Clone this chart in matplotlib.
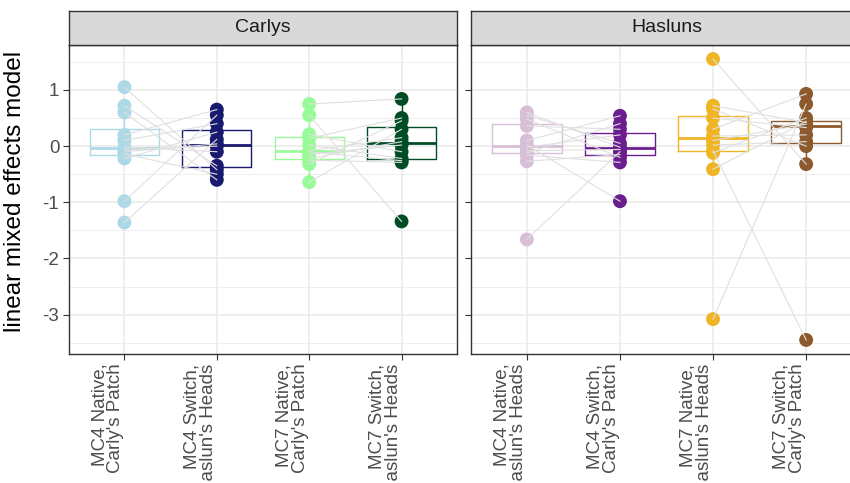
import matplotlib
matplotlib.use('Agg')
import matplotlib.pyplot as plt
import matplotlib.transforms as mtransforms

plt.rcParams['font.family'] = ['Liberation Sans', 'DejaVu Sans']
plt.rcParams['axes.unicode_minus'] = False

panels = ["Carlys", "Hasluns"]

carlys_labels = ["MC4 Native,\nCarly's Patch", "MC4 Switch,\nHaslun's Heads",
                 "MC7 Native,\nCarly's Patch", "MC7 Switch,\nHaslun's Heads"]
hasluns_labels = ["MC4 Native,\nHaslun's Heads", "MC4 Switch,\nCarly's Patch",
                  "MC7 Native,\nHaslun's Heads", "MC7 Switch,\nCarly's Patch"]

carlys_colors = ["#ADD8E6", "#191970", "#98FB98", "#004D25"]
hasluns_colors = ["#D8BFD8", "#6B1F8E", "#EFB524", "#8C5A2C"]

# values per individual; index i in native list pairs with index i in switch list
carlys_mc4_native = [1.05, 0.72, 0.6, 0.2, 0.1, -0.02, -0.06, -0.1, -0.14, -0.22, -0.98, -1.36]
carlys_mc4_switch = [-0.42, -0.35, -0.6, 0.65, 0.4, -0.1, 0.0, 0.04, -0.5, 0.25, 0.55, 0.12]
carlys_mc7_native = [0.75, 0.55, 0.21, 0.14, 0.02, -0.08, -0.1, -0.15, -0.22, -0.25, -0.32, -0.64]
carlys_mc7_switch = [0.84, -1.34, -0.1, 0.5, -0.22, 0.15, -0.26, 0.02, 0.08, -0.29, 0.45, 0.3]

hasluns_mc4_native = [0.6, 0.55, 0.48, 0.36, 0.1, 0.02, -0.02, -0.08, -0.12, -0.16, -0.27, -1.66]
hasluns_mc4_switch = [-0.02, 0.05, -0.2, 0.3, 0.54, -0.98, 0.2, -0.06, 0.4, -0.29, -0.15, -0.1]
hasluns_mc7_native = [1.55, 0.72, 0.66, 0.5, 0.3, 0.18, 0.1, 0.02, -0.08, -0.12, -0.41, -3.08]
hasluns_mc7_switch = [-0.32, 0.42, 0.0, 0.33, 0.93, 0.2, 0.39, 0.08, -3.45, 0.5, 0.44, 0.75]

panel_data = [
    [carlys_mc4_native, carlys_mc4_switch, carlys_mc7_native, carlys_mc7_switch],
    [hasluns_mc4_native, hasluns_mc4_switch, hasluns_mc7_native, hasluns_mc7_switch],
]
panel_labels = [carlys_labels, hasluns_labels]
panel_colors = [carlys_colors, hasluns_colors]

W, H = 850, 483
fig = plt.figure(figsize=(W / 100, H / 100), dpi=100)

# pixel boxes: (left, right) of each panel
panel_x = [(69, 457), (471, 862)]
top, bottom, strip_top = 45, 354, 11

grid_col = "#EBEBEB"
border_col = "#333333"

for p in range(2):
    x0, x1 = panel_x[p]
    ax = fig.add_axes([x0 / W, (H - bottom) / H, (x1 - x0) / W, (bottom - top) / H])
    sax = fig.add_axes([x0 / W, (H - top) / H, (x1 - x0) / W, (top - strip_top) / H])

    data = panel_data[p]
    cols = panel_colors[p]
    pos = [1, 2, 3, 4]

    ax.set_xlim(0.4, 4.6)
    ax.set_ylim(-3.70, 1.80)

    # grid
    for yv in [-3.5, -2.5, -1.5, -0.5, 0.5, 1.5]:
        ax.axhline(yv, color=grid_col, lw=0.6, zorder=0)
    for yv in [-3, -2, -1, 0, 1]:
        ax.axhline(yv, color=grid_col, lw=1.2, zorder=0)
    for xv in pos:
        ax.axvline(xv, color=grid_col, lw=1.2, zorder=0)

    for i in range(4):
        c = cols[i]
        ax.boxplot(data[i], positions=[pos[i]], widths=0.75, showfliers=False,
                   whis=1.5, manage_ticks=False,
                   boxprops=dict(color=c, lw=1.0),
                   whiskerprops=dict(color=c, lw=1.0),
                   capprops=dict(lw=0),
                   medianprops=dict(color=c, lw=2.0),
                   zorder=2)
        ax.scatter([pos[i]] * len(data[i]), data[i], s=100, color=c,
                   edgecolors='none', zorder=3)

    # paired lines
    for a, b in [(0, 1), (2, 3)]:
        for va, vb in zip(data[a], data[b]):
            ax.plot([pos[a], pos[b]], [va, vb], color="#E0E0E0", lw=0.8, zorder=4)

    ax.set_xticks(pos)
    ax.set_xticklabels(panel_labels[p], rotation=90, ha='right', va='bottom',
                       rotation_mode='anchor', fontsize=13.5, color="#4D4D4D",
                       linespacing=0.95)
    shift = mtransforms.ScaledTranslation(3 / 100, 0, fig.dpi_scale_trans)
    for lab in ax.get_xticklabels():
        lab.set_transform(lab.get_transform() + shift)
    ax.set_yticks([-3, -2, -1, 0, 1])
    if p == 0:
        ax.set_yticklabels(["-3", "-2", "-1", "0", "1"], fontsize=13.5, color="#4D4D4D")
        ax.set_ylabel("linear mixed effects model", fontsize=17.5, color="black")
        ax.yaxis.set_label_coords(-0.11, 0.525)
    else:
        ax.set_yticklabels([])
        ax.tick_params(axis='y', length=0)
    ax.tick_params(axis='both', color=border_col, length=4, width=0.8, pad=3)
    for s in ax.spines.values():
        s.set_color(border_col)
        s.set_linewidth(1.0)

    sax.set_facecolor("#D9D9D9")
    sax.set_xticks([])
    sax.set_yticks([])
    for s in sax.spines.values():
        s.set_color(border_col)
        s.set_linewidth(1.0)
    sax.text(0.5, 0.5, panels[p], transform=sax.transAxes, ha='center', va='center',
             fontsize=14, color="#1A1A1A")

fig.savefig("out.png", dpi=100)
